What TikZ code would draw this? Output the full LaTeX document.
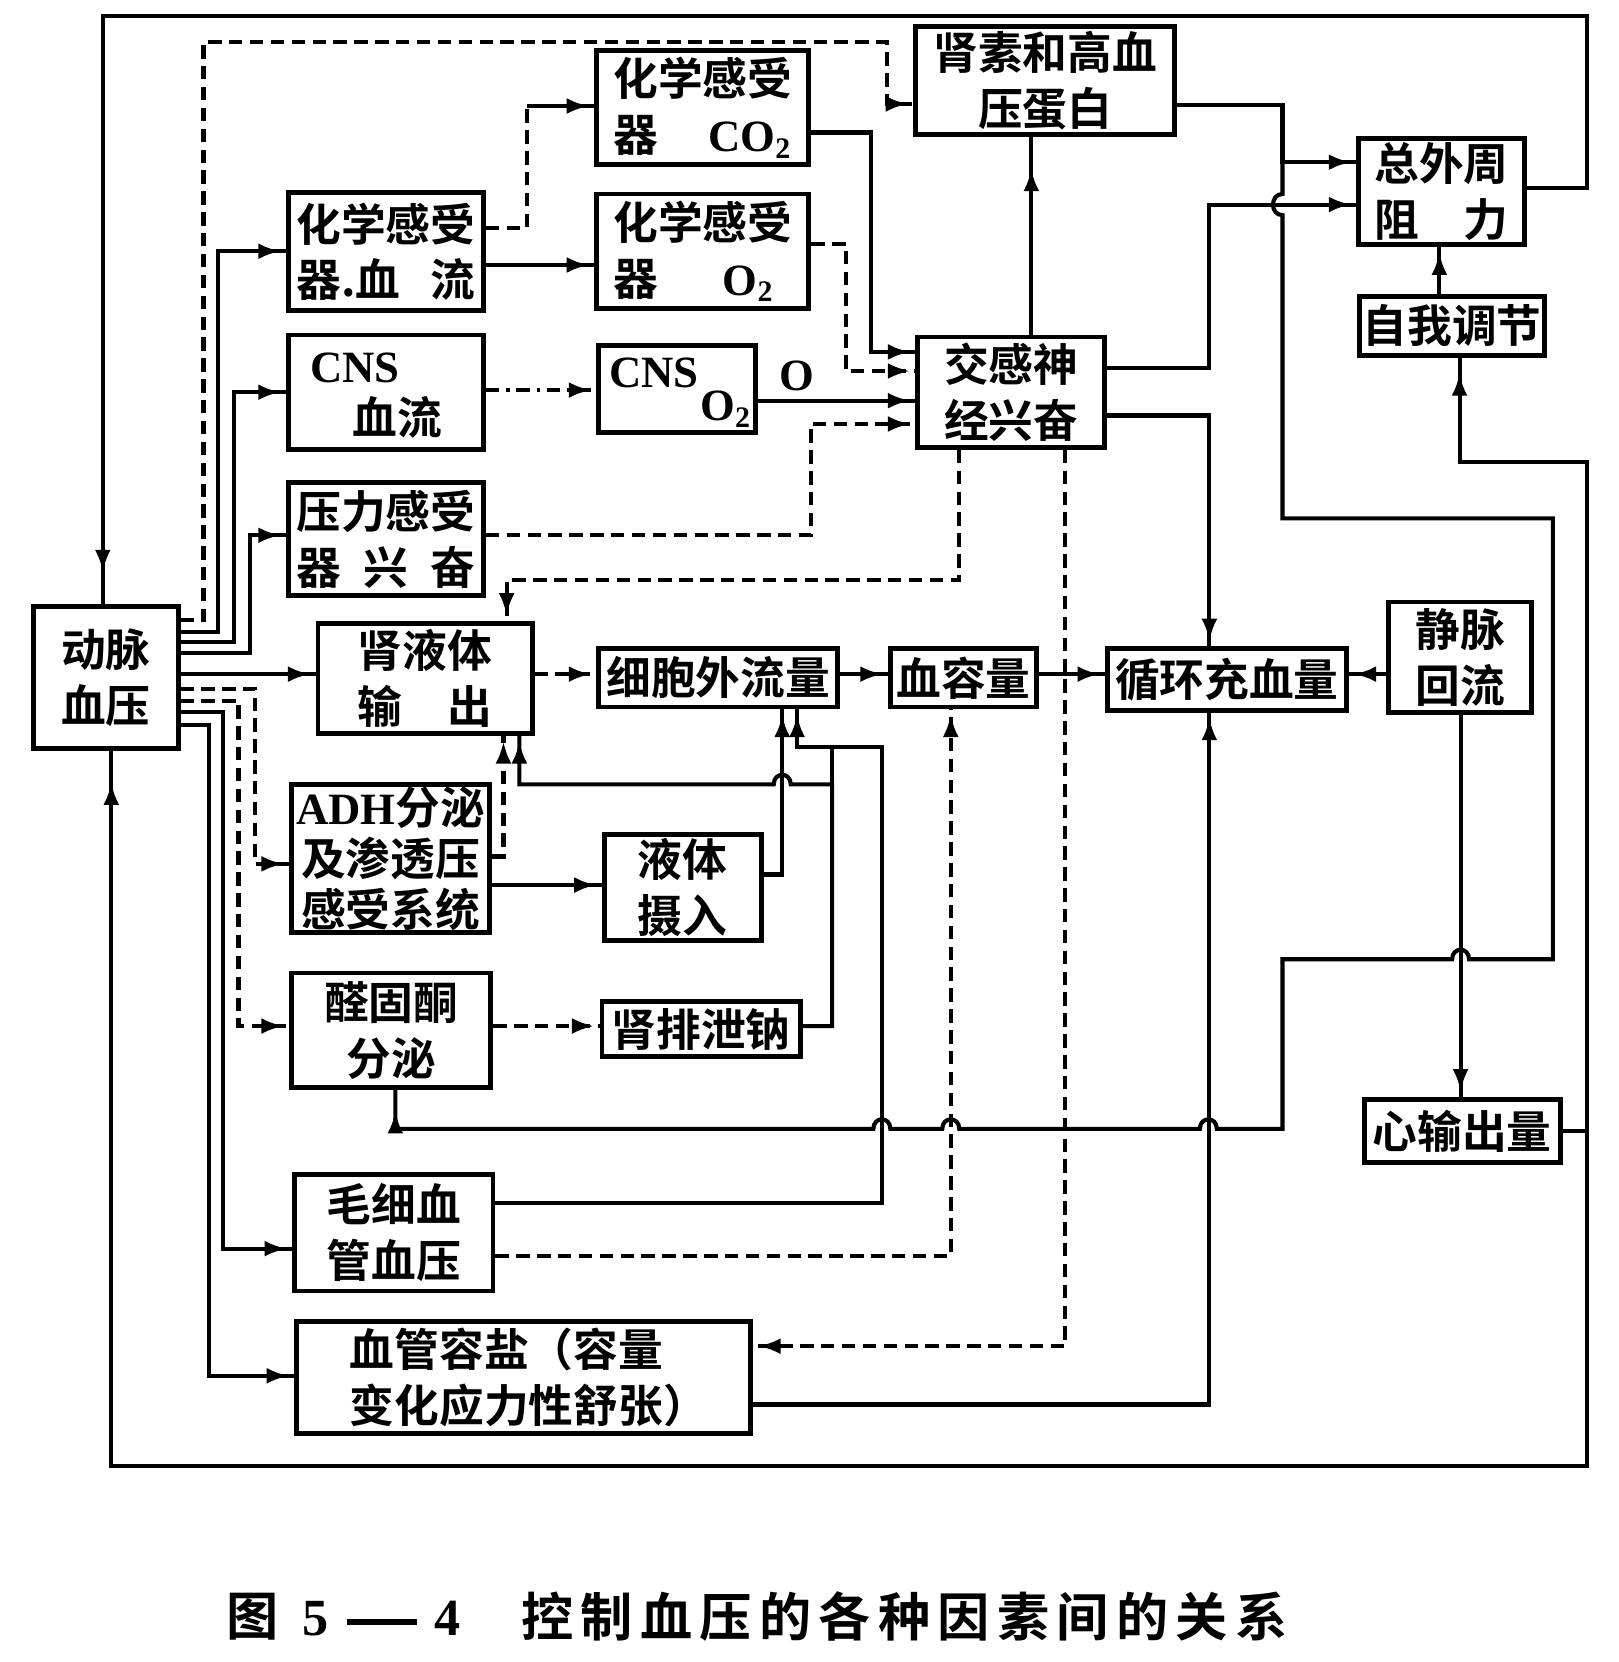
\documentclass[tikz,border=0pt]{standalone}
\usepackage{fontspec}
\setmainfont{Liberation Serif}
\newfontfamily\cjk{Noto Sans CJK SC}[BoldFont={Noto Sans CJK SC Bold}]
\newcommand\latb[1]{{\rmfamily\bfseries #1}}
\usetikzlibrary{arrows.meta,decorations.markings}
\tikzset{
 box/.style={draw, line width=1.3pt, inner sep=0pt, align=center, font=\cjk\bfseries\fontsize{12}{15}\selectfont},
 txt/.style={inner sep=0pt, font=\cjk\bfseries\fontsize{12}{15}\selectfont},
 ln/.style={line width=1.1pt},
 dsh/.style={ln, dash pattern=on 3.6pt off 2pt},
 dd/.style={ln, dash pattern=on 3.6pt off 1.8pt on 1pt off 1.8pt},
 arr/.style={postaction={decorate}, decoration={markings, mark=at position -#1 with {\arrow{Latex[length=0.21cm,width=0.15cm]}}}},
 arr/.default=0.05cm,
}
\begin{document}
\begin{tikzpicture}[x=0.01cm,y=-0.01cm]
\useasboundingbox (0,0) rectangle (1527,1568);
% boxes
\node[box, minimum width=1.36cm, minimum height=1.34cm] (dm) at (100,639) {动脉\\血压};
\node[box, minimum width=1.84cm, minimum height=1.11cm] (hx1) at (364,237.5) {化学感受\\\makebox[4em]{器.血\hfill 流}};
\node[box, minimum width=1.84cm, minimum height=1.08cm] (cns1) at (364,370) {};
\node[txt] (cns1a) at (335,347) {\latb{CNS}};
\node[txt] (cns1b) at (375,394) {血流};
\node[box, minimum width=1.84cm, minimum height=1.07cm] (yl) at (364,508.5) {压力感受\\\makebox[4em]{器\hfill 兴\hfill 奋}};
\node[box, minimum width=2.02cm, minimum height=1.04cm] (sy) at (401,640) {肾液体\\\makebox[3em]{输\hfill 出}};
\node[box, minimum width=1.87cm, minimum height=1.40cm, font=\cjk\bfseries\fontsize{12}{13.6}\selectfont] (adh) at (368.5,810) {\latb{ADH}分泌\\及渗透压\\感受系统};
\node[box, minimum width=1.48cm, minimum height=1.0cm] (yt) at (644,837) {液体\\摄入};
\node[box, minimum width=1.88cm, minimum height=1.08cm] (qgt) at (369,972) {醛固酮\\分泌};
\node[box, minimum width=1.87cm, minimum height=0.52cm] (spn) at (661.5,971) {肾排泄钠};
\node[box, minimum width=1.87cm, minimum height=1.10cm] (mx) at (371.5,1163) {毛细血\\管血压};
\node[box, minimum width=4.28cm, minimum height=1.05cm, align=left] (xgr) at (494,1299.5) {\hspace{0.1cm}血管容盐（容量\\\hspace{0.1cm}变化应力性舒张）};
\node[box, minimum width=2.0cm, minimum height=1.07cm] (co2) at (663,101.5) {化学感受\\\makebox[4em]{器\hfill\latb{CO\textsubscript{2}}}};
\node[box, minimum width=2.0cm, minimum height=1.08cm] (o2) at (663,237) {化学感受\\\makebox[4em]{器\hfill\latb{O\textsubscript{2}}\hspace{0.4em}}};
\node[box, minimum width=1.48cm, minimum height=0.82cm] (cns2) at (639,367) {};
\node[txt] (cns2a) at (617,352) {\latb{CNS}};
\node[txt] (cns2b) at (685,386) {\latb{O\textsubscript{2}}};
\node[txt] (olab) at (752,355) {\latb{O}};
\node[box, minimum width=2.44cm, minimum height=1.02cm] (sq) at (986,76) {肾素和高血\\压蛋白};
\node[box, minimum width=1.76cm, minimum height=1.04cm] (jg) at (954,370) {交感神\\经兴奋};
\node[box, minimum width=2.25cm, minimum height=0.55cm] (xbw) at (677.5,639.5) {细胞外流量};
\node[box, minimum width=1.38cm, minimum height=0.55cm] (xrl) at (909,639.5) {血容量};
\node[box, minimum width=2.25cm, minimum height=0.58cm] (xh) at (1157.5,641) {循环充血量};
\node[box, minimum width=1.35cm, minimum height=1.04cm] (jm) at (1377.5,620) {静脉\\回流};
\node[box, minimum width=1.56cm, minimum height=1.0cm] (zw) at (1360,181) {总外周\\\makebox[3em]{阻\hfill 力}};
\node[box, minimum width=1.74cm, minimum height=0.55cm] (zt) at (1370,307.5) {自我调节};
\node[box, minimum width=1.85cm, minimum height=0.60cm] (xs) at (1379.5,1067) {心输出量};
% left fan
\draw[dsh,arr] (dm.east |- 0,585) -- (192,585) -- (192,40) -- (837,40) -- (837,98) -- (sq.west |- 0,98);
\draw[ln,arr] (dm.east |- 0,596) -- (206,596) -- (206,237) -- (hx1.west |- 0,237);
\draw[ln,arr] (dm.east |- 0,606) -- (221,606) -- (221,370) -- (cns1.west |- 0,370);
\draw[ln,arr] (dm.east |- 0,616) -- (236,616) -- (236,505) -- (yl.west |- 0,505);
\draw[ln,arr] (dm.east |- 0,636) -- (sy.west |- 0,636);
\draw[dsh,arr] (dm.east |- 0,650) -- (241,650) -- (241,815) -- (adh.west |- 0,815);
\draw[dsh,arr] (dm.east |- 0,661) -- (225,661) -- (225,968) -- (qgt.west |- 0,968);
\draw[ln,arr] (dm.east |- 0,672) -- (210,672) -- (210,1178) -- (mx.west |- 0,1178);
\draw[ln,arr] (dm.east |- 0,684) -- (197,684) -- (197,1298) -- (xgr.west |- 0,1298);
% top part
\draw[dsh] (hx1.east |- 0,215) -- (497,215) -- (497,100) coordinate (c1);
\draw[ln,arr] (c1) -- (co2.west |- 0,100);
\draw[ln,arr] (hx1.east |- 0,250) -- (o2.west |- 0,250);
\draw[dd,arr] (cns1.east |- 0,368) -- (cns2.west |- 0,368);
\draw[ln,arr] (co2.east |- 0,125) -- (822,125) -- (822,332) -- (jg.west |- 0,332);
\draw[dsh,arr] (o2.east |- 0,230) -- (798,230) -- (798,350) -- (jg.west |- 0,350);
\draw[ln,arr] (cns2.east |- 0,378) -- (jg.west |- 0,378);
\draw[dsh,arr] (yl.east |- 0,505) -- (765,505) -- (765,400) -- (jg.west |- 0,400);
\draw[ln,arr=0.3cm] (jg.north -| 973,0) -- (sq.south -| 973,0);
\draw[dsh,arr] (jg.south -| 905,0) -- (905,547) -- (478,547) -- (sy.north -| 478,0);
\draw[ln,arr] (jg.east |- 0,347) -- (1141,347) -- (1141,193) -- (zw.west |- 0,193);
\draw[ln,arr] (jg.east |- 0,392) -- (1141,392) -- (xh.north -| 1141,0);
\draw[dsh,arr] (jg.south -| 1005,0) -- (1005,1270) -- (xgr.east |- 0,1270);
% renin line
\coordinate (rj1) at (1210,153);
\draw[ln,arr] (sq.east |- 0,99) -- (1210,99) -- (rj1) -- (zw.west |- 0,153);
\draw[ln,arr=0.2cm] (rj1) -- (1210,183) .. controls (1198,183) and (1198,203) .. (1210,203) -- (1210,489) -- (1465,489) -- (1465,905) -- (1386,905) .. controls (1386,893) and (1370,893) .. (1370,905) -- (1210,905) -- (1210,1065) -- (1148,1065) .. controls (1148,1053) and (1132,1053) .. (1132,1065) -- (905,1065) .. controls (905,1053) and (889,1053) .. (889,1065) -- (840,1065) .. controls (840,1053) and (824,1053) .. (824,1065) -- (373,1065) -- (qgt.south -| 373,0);
% frame
\draw[ln,arr=0.3cm] (zw.east |- 0,177) -- (1497,177) -- (1497,15) -- (97,15) -- (dm.north -| 97,0);
\draw[ln,arr] (zt.north -| 1358,0) -- (zw.south -| 1358,0);
\coordinate (rj2) at (1497,1067);
\draw[ln,arr=0.15cm] (xs.east) -- (rj2) -- (1497,436) -- (1377,436) -- (zt.south -| 1377,0);
\draw[ln,arr=0.3cm] (xs.east) -- (rj2) -- (1497,1383) -- (105,1383) -- (dm.south -| 105,0);
% middle
\draw[dsh,arr] (sy.east |- 0,636) -- (xbw.west |- 0,636);
\draw[ln,arr] (xbw.east |- 0,636) -- (xrl.west |- 0,636);
\draw[ln,arr] (xrl.east |- 0,636) -- (xh.west |- 0,636);
\draw[ln,arr] (jm.west |- 0,636) -- (xh.east |- 0,636);
\draw[ln,arr] (jm.south -| 1378,0) -- (xs.north -| 1378,0);
\draw[dsh,arr] (adh.east |- 0,808) -- (475,808) -- (sy.south -| 475,0);
\draw[ln,arr] (adh.east |- 0,835) -- (yt.west |- 0,835);
\draw[ln,arr] (yt.east |- 0,825) -- (738,825) -- (xbw.south -| 738,0);
\draw[dsh,arr] (qgt.east |- 0,968) -- (spn.west |- 0,968);
\draw[ln,arr] (spn.east |- 0,968) -- (785,968) -- (785,740) -- (746,740) .. controls (746,728) and (730,728) .. (730,740) -- (490,740) -- (sy.south -| 490,0);
\draw[ln] (785,740) -- (785,705);
\draw[ln,arr] (mx.east |- 0,1135) -- (832,1135) -- (832,705) -- (752,705) -- (xbw.south -| 752,0);
\draw[dsh,arr] (mx.east |- 0,1185) -- (897,1185) -- (xrl.south -| 897,0);
\draw[ln,arr] (xgr.east |- 0,1325) -- (1141,1325) -- (xh.south -| 1141,0);
% caption
\node[anchor=west, inner sep=0pt, font=\cjk\bfseries\fontsize{14}{16}\selectfont] (cap1) at (213,1525) {图\hspace{0.22cm}\latb{5}\hspace{0.18cm}\rule[0.35ex]{0.66cm}{0.06cm}\hspace{0.16cm}\latb{4}};
\node[anchor=west, inner sep=0pt, font=\cjk\bfseries\fontsize{14}{16}\selectfont\addfontfeature{LetterSpace=14}] (cap2) at (491,1525) {控制血压的各种因素间的关系};
\end{tikzpicture}
\end{document}
